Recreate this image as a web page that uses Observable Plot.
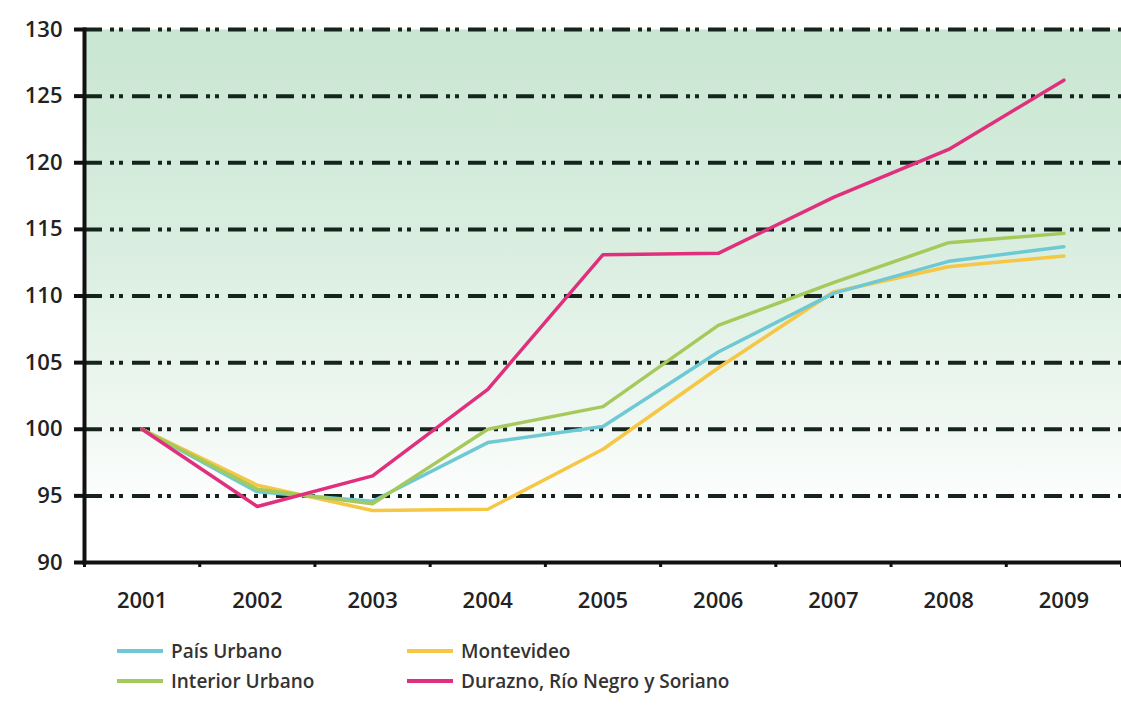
<!DOCTYPE html>
<html>
<head>
<meta charset="utf-8">
<script src="https://cdn.jsdelivr.net/npm/d3@7"></script>
<script src="https://cdn.jsdelivr.net/npm/@observablehq/plot@0.6"></script>
<style>
  html, body { margin: 0; padding: 0; background: #fff; }
  #wrap { position: relative; width: 1121px; height: 710px; font-family: "Open Sans", sans-serif; }
  .leg { position: absolute; display: flex; align-items: center; font-size: 19px; font-weight: 600; color: #333; }
  .leg .sw { width: 46px; height: 4px; margin-right: 8px; }
</style>
</head>
<body>
<div id="wrap"></div>
<script>
const years = [2001, 2002, 2003, 2004, 2005, 2006, 2007, 2008, 2009];
const seriesNames = ["País Urbano", "Montevideo", "Interior Urbano", "Durazno, Río Negro y Soriano"];
const seriesColors = ["#6ec9d4", "#f6c645", "#a6c95c", "#e0307d"];
const paisUrbano     = [100, 95.3, 94.6, 99.0, 100.2, 105.8, 110.2, 112.6, 113.7];
const montevideo     = [100, 95.8, 93.9, 94.0, 98.5, 104.6, 110.3, 112.2, 113.0];
const interiorUrbano = [100, 95.5, 94.4, 100.0, 101.7, 107.8, 111.0, 114.0, 114.7];
const durazno        = [100, 94.2, 96.5, 103.0, 113.1, 113.2, 117.4, 121.0, 126.2];
const yTicks = [90, 95, 100, 105, 110, 115, 120, 125, 130];
const gridTicks = [95, 100, 105, 110, 115, 120, 125, 130];
const yearBoundaries = [2000.5, 2001.5, 2002.5, 2003.5, 2004.5, 2005.5, 2006.5, 2007.5, 2008.5, 2009.5];

const seriesValues = [paisUrbano, montevideo, interiorUrbano, durazno];
const drawOrder = [1, 0, 2, 3];
const rows = [];
for (const s of drawOrder) {
  years.forEach((yr, i) => rows.push({series: seriesNames[s], year: yr, value: seriesValues[s][i]}));
}

const defs = () => {
  const ns = "http://www.w3.org/2000/svg";
  const d = document.createElementNS(ns, "defs");
  const g = document.createElementNS(ns, "linearGradient");
  g.setAttribute("id", "bg");
  g.setAttribute("x1", "0"); g.setAttribute("y1", "0");
  g.setAttribute("x2", "0"); g.setAttribute("y2", "1");
  [["0", "#c8e6d1"], ["0.45", "#dcefe2"], ["0.75", "#f1f8f3"], ["0.9", "#ffffff"], ["1", "#ffffff"]].forEach(([o, c]) => {
    const st = document.createElementNS(ns, "stop");
    st.setAttribute("offset", o); st.setAttribute("stop-color", c);
    g.appendChild(st);
  });
  d.appendChild(g);
  return d;
};

const chart = Plot.plot({
  width: 1121,
  height: 625,
  marginLeft: 84,
  marginRight: 0,
  marginTop: 29,
  marginBottom: 63,
  style: {fontFamily: "Open Sans, sans-serif", fontSize: "22px", fontWeight: 600, color: "#222", background: "transparent"},
  x: {type: "linear", domain: [2000.5, 2009.5]},
  y: {domain: [90, 130]},
  color: {domain: seriesNames, range: seriesColors},
  marks: [
    defs,
    Plot.frame({fill: "url(#bg)", stroke: "none"}),
    Plot.gridY(gridTicks, {stroke: "#15241c", strokeOpacity: 1, strokeWidth: 4, strokeDasharray: "18,8,4,5,4,9"}),
    Plot.line(rows, {x: "year", y: "value", z: "series", stroke: "series", strokeWidth: 3.5, curve: "linear"}),
    Plot.frame({anchor: "left", stroke: "#111", strokeWidth: 4}),
    Plot.frame({anchor: "bottom", stroke: "#111", strokeWidth: 4}),
    Plot.axisY({ticks: yTicks, tickSize: 10, tickPadding: 12, strokeWidth: 4, stroke: "#111", tickFormat: d => String(d), label: null}),
    Plot.axisX({ticks: years, tickSize: 0, tickPadding: 30, tickFormat: d => String(d), label: null}),
    Plot.axisX({ticks: yearBoundaries, tickSize: 5, strokeWidth: 3, stroke: "#111", tickFormat: () => "", label: null})
  ]
});

const wrap = document.getElementById("wrap");
wrap.appendChild(chart);

const legendPos = [
  {left: 117, top: 638}, {left: 407, top: 638},
  {left: 117, top: 668}, {left: 407, top: 668}
];
seriesNames.forEach((name, i) => {
  const item = document.createElement("div");
  item.className = "leg";
  item.style.left = legendPos[i].left + "px";
  item.style.top = legendPos[i].top + "px";
  const sw = document.createElement("span");
  sw.className = "sw";
  sw.style.background = seriesColors[i];
  const tx = document.createElement("span");
  tx.textContent = name;
  item.appendChild(sw);
  item.appendChild(tx);
  wrap.appendChild(item);
});
</script>
</body>
</html>
